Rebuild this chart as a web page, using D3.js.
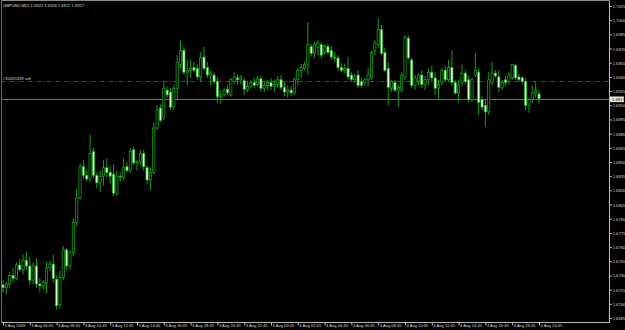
<!DOCTYPE html>
<html>
<head>
<meta charset="utf-8">
<script src="https://cdn.jsdelivr.net/npm/d3@7"></script>
<style>
  body { margin: 0; background: #000; }
  svg { display: block; }
</style>
</head>
<body>
<div class="chart"></div>
<script>
var svgWidth = 625;
var svgHeight = 330;

// chart frame (pixels)
var frame = { left: 1.5, top: 0.5, right: 609.5, bottom: 322.5 };

var symbol = "GBPUSD,M15";
var startTime = new Date(2009, 7, 3, 4, 45);
var barMinutes = 15;

// M15 bars, 3 Aug 2009 04:45 -> 4 Aug 2009 20:45
var opens = [
  1.6720,1.6717,1.6721,1.6730,1.6727,1.6741,1.6736,1.6746,1.6740,1.6725,
  1.6740,1.6721,1.6719,1.6722,1.6738,1.6742,1.6726,1.6699,1.6728,1.6757,
  1.6740,1.6754,1.6786,1.6812,1.6845,1.6836,1.6832,1.6861,1.6836,1.6828,
  1.6835,1.6844,1.6839,1.6837,1.6817,1.6835,1.6834,1.6845,1.6841,1.6863,
  1.6849,1.6850,1.6859,1.6844,1.6831,1.6839,1.6886,1.6907,1.6897,1.6926,
  1.6924,1.6908,1.6928,1.6953,1.6968,1.6945,1.6947,1.6950,1.6949,1.6940,
  1.6961,1.6950,1.6942,1.6942,1.6935,1.6919,1.6921,1.6927,1.6921,1.6935,
  1.6939,1.6937,1.6936,1.6927,1.6930,1.6934,1.6932,1.6938,1.6928,1.6931,
  1.6934,1.6930,1.6932,1.6937,1.6929,1.6924,1.6926,1.6923,1.6937,1.6947,
  1.6949,1.6953,1.6972,1.6965,1.6971,1.6974,1.6966,1.6972,1.6968,1.6961,
  1.6960,1.6950,1.6947,1.6949,1.6942,1.6937,1.6942,1.6935,1.6934,1.6937,
  1.6939,1.6968,1.6974,1.6990,1.6966,1.6949,1.6928,1.6934,1.6926,1.6926,
  1.6940,1.6981,1.6958,1.6931,1.6935,1.6942,1.6932,1.6937,1.6945,1.6939,
  1.6928,1.6934,1.6947,1.6937,1.6950,1.6934,1.6923,1.6934,1.6944,1.6937,
  1.6916,1.6942,1.6945,1.6916,1.6910,1.6903,1.6934,1.6944,1.6940,1.6929,
  1.6937,1.6935,1.6939,1.6952,1.6940,1.6939,1.6935,1.6910,1.6916,1.6923,
  1.6922
];
var highs = [
  1.6725,1.6723,1.6734,1.6738,1.6744,1.6748,1.6752,1.6755,1.6750,1.6744,
  1.6748,1.6727,1.6725,1.6744,1.6746,1.6752,1.6730,1.6735,1.6761,1.6759,
  1.6757,1.6791,1.6822,1.6848,1.6852,1.6841,1.6879,1.6865,1.6839,1.6841,
  1.6852,1.6854,1.6846,1.6847,1.6841,1.6839,1.6854,1.6850,1.6865,1.6866,
  1.6852,1.6863,1.6863,1.6847,1.6844,1.6892,1.6910,1.6911,1.6935,1.6930,
  1.6928,1.6932,1.6963,1.6979,1.6972,1.6958,1.6958,1.6956,1.6954,1.6966,
  1.6972,1.6956,1.6947,1.6945,1.6939,1.6926,1.6928,1.6931,1.6939,1.6945,
  1.6943,1.6942,1.6939,1.6935,1.6937,1.6939,1.6941,1.6941,1.6935,1.6937,
  1.6939,1.6937,1.6941,1.6942,1.6935,1.6931,1.6930,1.6939,1.6949,1.6954,
  1.6956,1.6998,1.6975,1.6977,1.6979,1.6977,1.6974,1.6975,1.6973,1.6966,
  1.6963,1.6955,1.6954,1.6961,1.6945,1.6943,1.6947,1.6939,1.6939,1.6949,
  1.6968,1.6979,1.7002,1.6995,1.6971,1.6956,1.6937,1.6937,1.6932,1.6945,
  1.6984,1.6984,1.6960,1.6942,1.6944,1.6947,1.6941,1.6949,1.6952,1.6945,
  1.6937,1.6949,1.6952,1.6958,1.6968,1.6937,1.6937,1.6953,1.6947,1.6941,
  1.6939,1.6965,1.6949,1.6920,1.6916,1.6945,1.6956,1.6947,1.6947,1.6937,
  1.6941,1.6945,1.6954,1.6954,1.6943,1.6941,1.6939,1.6918,1.6931,1.6935,
  1.6926
];
var lows = [
  1.6712,1.6710,1.6717,1.6723,1.6725,1.6734,1.6731,1.6736,1.6720,1.6721,
  1.6717,1.6712,1.6715,1.6711,1.6734,1.6722,1.6694,1.6695,1.6725,1.6736,
  1.6736,1.6750,1.6782,1.6810,1.6833,1.6829,1.6829,1.6833,1.6822,1.6818,
  1.6825,1.6833,1.6827,1.6814,1.6814,1.6829,1.6831,1.6839,1.6839,1.6846,
  1.6841,1.6847,1.6841,1.6827,1.6820,1.6837,1.6884,1.6892,1.6894,1.6918,
  1.6905,1.6905,1.6916,1.6949,1.6942,1.6931,1.6939,1.6945,1.6937,1.6935,
  1.6947,1.6939,1.6931,1.6932,1.6912,1.6911,1.6919,1.6921,1.6919,1.6932,
  1.6932,1.6932,1.6921,1.6924,1.6928,1.6928,1.6930,1.6924,1.6924,1.6926,
  1.6926,1.6924,1.6928,1.6926,1.6920,1.6918,1.6920,1.6921,1.6931,1.6939,
  1.6947,1.6942,1.6962,1.6960,1.6963,1.6960,1.6963,1.6964,1.6958,1.6956,
  1.6947,1.6945,1.6944,1.6937,1.6935,1.6934,1.6928,1.6928,1.6930,1.6930,
  1.6937,1.6963,1.6971,1.6963,1.6945,1.6910,1.6924,1.6924,1.6908,1.6924,
  1.6937,1.6958,1.6928,1.6926,1.6931,1.6928,1.6926,1.6931,1.6935,1.6921,
  1.6916,1.6931,1.6935,1.6935,1.6931,1.6921,1.6913,1.6930,1.6932,1.6913,
  1.6913,1.6940,1.6900,1.6905,1.6887,1.6900,1.6931,1.6939,1.6924,1.6926,
  1.6931,1.6932,1.6937,1.6937,1.6935,1.6932,1.6905,1.6902,1.6912,1.6918,
  1.6912
];
var closes = [
  1.6717,1.6721,1.6730,1.6727,1.6741,1.6736,1.6746,1.6740,1.6725,1.6740,
  1.6721,1.6719,1.6723,1.6738,1.6742,1.6727,1.6698,1.6728,1.6757,1.6740,
  1.6754,1.6786,1.6812,1.6845,1.6836,1.6832,1.6859,1.6836,1.6828,1.6835,
  1.6844,1.6839,1.6835,1.6817,1.6835,1.6834,1.6844,1.6841,1.6861,1.6849,
  1.6850,1.6859,1.6845,1.6831,1.6839,1.6886,1.6905,1.6894,1.6928,1.6921,
  1.6908,1.6928,1.6955,1.6968,1.6945,1.6947,1.6949,1.6947,1.6940,1.6960,
  1.6949,1.6942,1.6944,1.6935,1.6919,1.6921,1.6926,1.6923,1.6937,1.6940,
  1.6937,1.6939,1.6927,1.6930,1.6934,1.6931,1.6938,1.6928,1.6931,1.6934,
  1.6930,1.6932,1.6937,1.6929,1.6924,1.6926,1.6923,1.6937,1.6947,1.6950,
  1.6953,1.6974,1.6965,1.6974,1.6976,1.6963,1.6972,1.6966,1.6961,1.6960,
  1.6950,1.6947,1.6949,1.6940,1.6937,1.6940,1.6931,1.6931,1.6937,1.6942,
  1.6966,1.6976,1.6990,1.6965,1.6947,1.6929,1.6935,1.6926,1.6929,1.6942,
  1.6982,1.6960,1.6931,1.6939,1.6942,1.6932,1.6937,1.6945,1.6939,1.6928,
  1.6932,1.6947,1.6937,1.6950,1.6934,1.6923,1.6931,1.6944,1.6935,1.6916,
  1.6937,1.6947,1.6913,1.6908,1.6903,1.6937,1.6944,1.6941,1.6929,1.6934,
  1.6934,1.6942,1.6953,1.6939,1.6937,1.6935,1.6910,1.6916,1.6923,1.6926,
  1.6917
];

var priceTicks = [1.7015, 1.7000, 1.6985, 1.6970, 1.6955, 1.6940, 1.6925, 1.6910,
  1.6895, 1.6880, 1.6865, 1.6850, 1.6835, 1.6820, 1.6805, 1.6790, 1.6775,
  1.6760, 1.6745, 1.6730, 1.6715, 1.6700, 1.6685];

var orderPrice = 1.6936;
var orderLabel = "#10265339 sell";
var labelEvery = 8; // one time label every 2 hours

var fontFamily = "'Liberation Sans', Arial, sans-serif";
var textColor = "#d8d8d8";
var candleColor = "#16b016";
var wickColor = "#11a011";
var bearFill = "#dcffdc";

var svg = d3.select(".chart")
  .append("svg")
  .attr("width", svgWidth)
  .attr("height", svgHeight)
  .style("background", "#000");

var n = closes.length;
var xScale = d3.scaleLinear()
  .domain([0, n - 1])
  .range([3, 539]);

var yScale = d3.scaleLinear()
  .domain([1.6685, 1.7015])
  .range([318, 6]);

var bars = d3.range(n).map(function(i) {
  return {
    i: i,
    time: new Date(startTime.getTime() + i * barMinutes * 60000),
    open: opens[i], high: highs[i], low: lows[i], close: closes[i]
  };
});
var last = bars[n - 1];

// header
svg.append("text")
  .attr("x", 3)
  .attr("y", 7.2)
  .attr("fill", textColor)
  .attr("font-family", fontFamily)
  .attr("font-size", 4.1)
  .text(symbol + "  " + [last.open, last.high, last.low, last.close].map(d3.format(".4f")).join(" "));

// order line
svg.append("line")
  .attr("x1", frame.left)
  .attr("x2", frame.right)
  .attr("y1", Math.round(yScale(orderPrice)) + 0.5)
  .attr("y2", Math.round(yScale(orderPrice)) + 0.5)
  .attr("stroke", "#0b7a0b")
  .attr("stroke-width", 1)
  .attr("stroke-dasharray", "4,2,1,2");

svg.append("text")
  .attr("x", 3)
  .attr("y", Math.round(yScale(orderPrice)) - 1.5)
  .attr("fill", textColor)
  .attr("font-family", fontFamily)
  .attr("font-size", 4.1)
  .text(orderLabel);

// bid line
svg.append("line")
  .attr("x1", frame.left)
  .attr("x2", frame.right)
  .attr("y1", Math.round(yScale(last.close)) + 0.5)
  .attr("y2", Math.round(yScale(last.close)) + 0.5)
  .attr("stroke", "#66707c")
  .attr("stroke-width", 1);

// candles
var candles = svg.append("g").selectAll("g")
  .data(bars)
  .enter()
  .append("g");

candles.append("line")
  .attr("x1", d => xScale(d.i))
  .attr("x2", d => xScale(d.i))
  .attr("y1", d => yScale(d.high))
  .attr("y2", d => yScale(d.low))
  .attr("stroke", wickColor)
  .attr("stroke-width", 1);

candles.append("rect")
  .attr("x", d => xScale(d.i) - 1.1)
  .attr("width", 2.2)
  .attr("y", d => yScale(Math.max(d.open, d.close)))
  .attr("height", d => Math.max(0.6, Math.abs(yScale(d.open) - yScale(d.close))))
  .attr("fill", d => d.close >= d.open ? "#000" : bearFill)
  .attr("stroke", candleColor)
  .attr("stroke-width", 0.7);

// frame
svg.append("line")
  .attr("x1", frame.left).attr("x2", frame.left)
  .attr("y1", frame.top).attr("y2", frame.bottom)
  .attr("stroke", "#6a6a6a");
svg.append("line")
  .attr("x1", frame.left).attr("x2", frame.right)
  .attr("y1", frame.top).attr("y2", frame.top)
  .attr("stroke", "#8a8a8a");
svg.append("line")
  .attr("x1", frame.left).attr("x2", frame.right)
  .attr("y1", frame.bottom).attr("y2", frame.bottom)
  .attr("stroke", "#b8b8b8");

// price axis
var rightAxis = d3.axisRight(yScale)
  .tickValues(priceTicks)
  .tickSize(2.5)
  .tickSizeOuter(0)
  .tickFormat(d3.format(".4f"));

var yAxisGroup = svg.append("g")
  .attr("transform", `translate(${frame.right}, 0)`)
  .call(rightAxis);

yAxisGroup.select(".domain")
  .attr("stroke", "#b8b8b8")
  .attr("d", `M0,${frame.top}V${frame.bottom}`);
yAxisGroup.selectAll(".tick line").attr("stroke", "#b8b8b8");
yAxisGroup.selectAll(".tick text")
  .attr("x", 3.2)
  .attr("dy", "0.36em")
  .attr("fill", textColor)
  .attr("font-family", fontFamily)
  .attr("font-size", 4.1);

// current price marker
var bidY = Math.round(yScale(last.close)) + 0.5;
svg.append("rect")
  .attr("x", frame.right + 0.5)
  .attr("y", bidY - 3)
  .attr("width", 14)
  .attr("height", 5.6)
  .attr("fill", "#e8e8e8");
svg.append("text")
  .attr("x", frame.right + 2.5)
  .attr("y", bidY + 1.5)
  .attr("fill", "#000")
  .attr("font-family", fontFamily)
  .attr("font-size", 4.1)
  .text(d3.format(".4f")(last.close));

// time axis
var fmtFirst = d3.timeFormat("%-d %b %Y");
var fmtTime = d3.timeFormat("%-d %b %H:%M");
var timeTicks = bars.filter(d => d.i % labelEvery === 0).map(d => d.i);

var bottomAxis = d3.axisBottom(xScale)
  .tickValues(timeTicks)
  .tickSize(3)
  .tickSizeOuter(0)
  .tickFormat(i => i === 0 ? fmtFirst(bars[i].time) : fmtTime(bars[i].time));

var xAxisGroup = svg.append("g")
  .attr("transform", `translate(0, ${frame.bottom})`)
  .call(bottomAxis);

xAxisGroup.select(".domain").remove();
xAxisGroup.selectAll(".tick line").attr("stroke", "#b8b8b8");
xAxisGroup.selectAll(".tick text")
  .attr("text-anchor", "start")
  .attr("x", 1)
  .attr("y", 2)
  .attr("dy", "0.71em")
  .attr("fill", textColor)
  .attr("font-family", fontFamily)
  .attr("font-size", 4.1);
</script>
</body>
</html>
